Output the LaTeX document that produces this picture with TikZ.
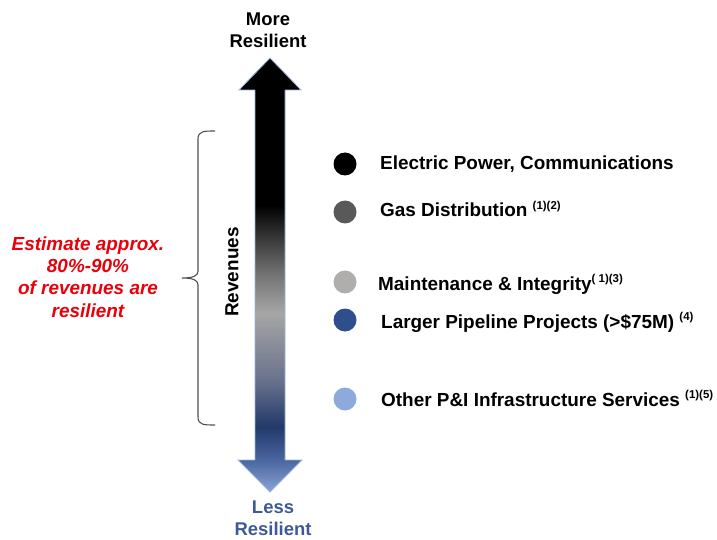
\documentclass[tikz,border=0pt]{standalone}
\usepackage{fontspec}
\setmainfont{Liberation Sans}

% colours of the resilience scale
\definecolor{arLight}{HTML}{8AA4D6}
\definecolor{arMid}{HTML}{4A66A0}
\definecolor{arNavy}{HTML}{22396A}
\definecolor{arSlate}{HTML}{69728C}
\definecolor{arPale}{HTML}{A6A6A6}
\definecolor{arGrey}{HTML}{6E6E6E}
\definecolor{arDark}{HTML}{1A1A1A}
\definecolor{arEdge}{HTML}{9DB3DD}
\definecolor{lessBlue}{HTML}{3D5A96}
\definecolor{noteRed}{HTML}{E8000B}
\definecolor{dotGas}{HTML}{595959}
\definecolor{dotMaint}{HTML}{B0ADAD}
\definecolor{dotPipe}{HTML}{2F4E8E}
\definecolor{dotOther}{HTML}{8EAADC}
\definecolor{braceGrey}{HTML}{505050}

% vertical blend: light blue at the bottom, black at the top
\pgfdeclareverticalshading{resil}{100bp}{%
  color(0bp)=(arLight); color(25bp)=(arLight); color(28.7bp)=(arMid);
  color(32.5bp)=(arNavy); color(37.9bp)=(arSlate); color(45.6bp)=(arPale);
  color(50.5bp)=(arGrey); color(56.3bp)=(arDark); color(58bp)=(black);
  color(100bp)=(black)}

\newcommand\fnmark[1]{\raisebox{0.4em}{\fontsize{11.5}{13}\selectfont #1}}

\begin{document}
\begin{tikzpicture}[x=1bp,y=-1bp,
  itemtext/.style={anchor=base west,inner sep=0pt,
    font=\fontsize{19}{21}\selectfont\bfseries},
  dot/.style={circle,inner sep=0pt,minimum size=23bp},
  endlabel/.style={align=center,inner sep=0pt,
    font=\fontsize{18.5}{22}\selectfont\bfseries}]
\useasboundingbox (0,0) rectangle (717,540);

% double-headed scale arrow
\shade[shading=resil,draw=arEdge,line width=0.8bp]
  (270,58) -- (301,90) -- (285,90) -- (285,460) -- (302,460) -- (270,492)
  -- (238,460) -- (255,460) -- (255,90) -- (239,90) -- cycle;

\node[endlabel] (more) at (268,30.5) {More\\Resilient};
\node[endlabel,text=lessBlue] (less) at (273,518.5) {Less\\Resilient};

% revenue brace and note
\draw[braceGrey,line width=1.1bp]
  (215,131) .. controls (204,131) and (198,131) .. (198,139) -- (198,271)
  .. controls (198,276) and (193,278) .. (182,278)
  .. controls (193,278) and (198,280) .. (198,285) -- (198,417)
  .. controls (198,425) and (204,425) .. (215,425);
\coordinate (bracetip) at (182,278);

\node[rotate=90,inner sep=0pt,font=\fontsize{19}{21}\selectfont\bfseries]
  (rev) at (232,272) {Revenues};

\node[align=center,inner sep=0pt,text=noteRed,
  font=\fontsize{19}{22.3}\selectfont\bfseries\itshape]
  (note) at (88,277) {Estimate approx.\\80\%-90\%\\of revenues are\\resilient};

% legend
\node[dot,fill=black] (c1) at (345,164) {};
\node[dot,fill=dotGas] (c2) at (345,212) {};
\node[dot,fill=dotMaint] (c3) at (345,282) {};
\node[dot,fill=dotPipe] (c4) at (345,320) {};
\node[dot,fill=dotOther] (c5) at (345,399) {};

\node[itemtext] (t1) at (380,170) {Electric Power, Communications};
\node[itemtext] (t2) at (380,217) {Gas Distribution \fnmark{(1)(2)}};
\node[itemtext] (t3) at (378,290) {Maintenance \& Integrity\fnmark{( 1)(3)}};
\node[itemtext] (t4) at (381,328) {Larger Pipeline Projects (>\$75M) \fnmark{(4)}};
\node[itemtext] (t5) at (381,406) {Other P\&I Infrastructure Services \fnmark{(1)(5)}};
\end{tikzpicture}
\end{document}
